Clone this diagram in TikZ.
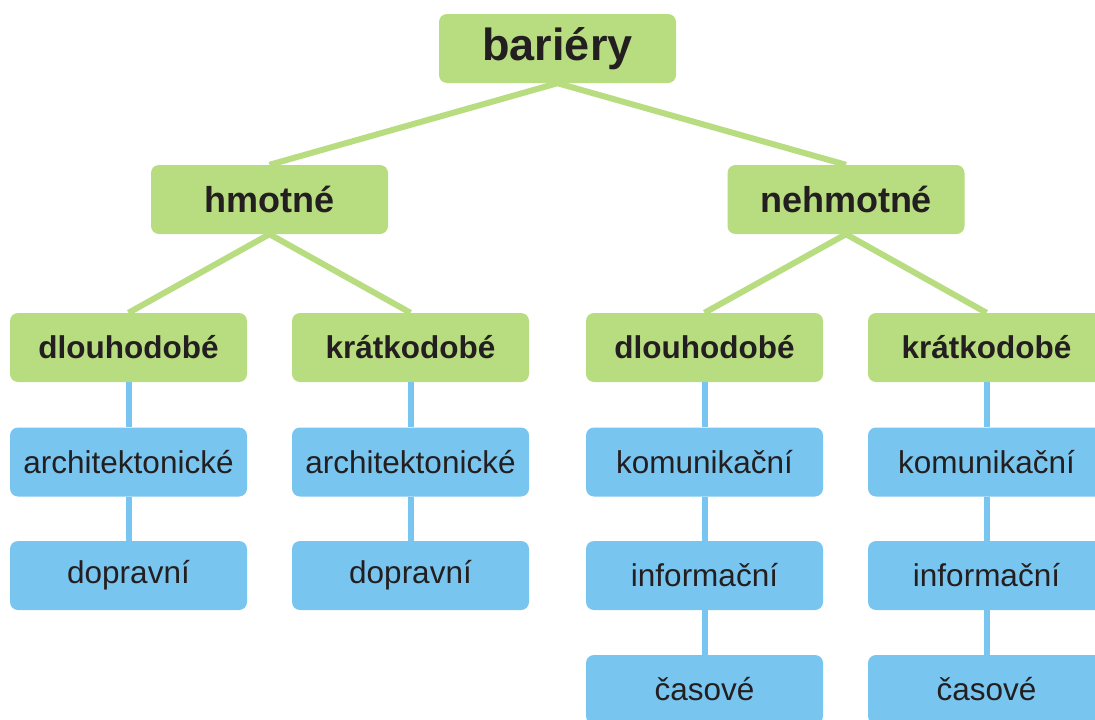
\documentclass[tikz,border=0pt]{standalone}
\usepackage{fontspec}
\setmainfont{Liberation Sans}
\usepackage{xcolor}
\usepackage{tikz}
\usetikzlibrary{positioning}
\definecolor{grn}{HTML}{B8DC80}
\definecolor{blu}{HTML}{78C5F0}
\definecolor{ink}{HTML}{231F20}
\tikzset{
  box/.style={rectangle, rounded corners=8pt, minimum width=237pt, minimum height=69pt, inner sep=0pt, text=ink},
  top/.style={box, fill=grn, font=\fontsize{45}{50}\selectfont\bfseries},
  mid/.style={box, fill=grn, font=\fontsize{36}{40}\selectfont\bfseries},
  sub/.style={box, fill=grn, font=\fontsize{31.5}{36}\selectfont\bfseries},
  leaf/.style={box, fill=blu, font=\fontsize{31.5}{36}\selectfont},
  ge/.style={draw=grn, line width=6pt},
  be/.style={draw=blu, line width=6pt},
  tree/.style={x=1pt, y=-1pt}
}
\begin{document}
\begin{tikzpicture}[tree]
  \useasboundingbox (0,0) rectangle (1095,720);
  \clip (0,0) rectangle (1095,720);

  % Root
  \node[top] (bar) at (557.5,48.5) {bariéry};

  % Second level
  \node[mid] (hm) at (269.5,199.5) {hmotné};
  \node[mid] (nehm) at (846,199.5) {nehmotné};

  % Third level
  \node[sub] (hdl) at (128.5,347.5) {dlouhodobé};
  \node[sub] (hkr) at (410.5,347.5) {krátkodobé};
  \node[sub] (ndl) at (704.5,347.5) {dlouhodobé};
  \node[sub] (nkr) at (986.5,347.5) {krátkodobé};

  % Leaves - hmotne
  \node[leaf] (hdl1) at (128.5,462) {architektonické};
  \node[leaf] (hdl2) at (128.5,575.5) {dopravní};
  \node[leaf] (hkr1) at (410.5,462) {architektonické};
  \node[leaf] (hkr2) at (410.5,575.5) {dopravní};

  % Leaves - nehmotne
  \node[leaf] (ndl1) at (704.5,462) {komunikační};
  \node[leaf] (ndl2) at (704.5,575.5) {informační};
  \node[leaf] (ndl3) at (704.5,689.5) {časové};
  \node[leaf] (nkr1) at (986.5,462) {komunikační};
  \node[leaf] (nkr2) at (986.5,575.5) {informační};
  \node[leaf] (nkr3) at (986.5,689.5) {časové};

  % Green edges
  \draw[ge] (bar.south) -- (hm.north);
  \draw[ge] (bar.south) -- (nehm.north);
  \draw[ge] (hm.south) -- (hdl.north);
  \draw[ge] (hm.south) -- (hkr.north);
  \draw[ge] (nehm.south) -- (ndl.north);
  \draw[ge] (nehm.south) -- (nkr.north);

  % Blue edges
  \draw[be] (hdl) -- (hdl1);
  \draw[be] (hdl1) -- (hdl2);
  \draw[be] (hkr) -- (hkr1);
  \draw[be] (hkr1) -- (hkr2);
  \draw[be] (ndl) -- (ndl1);
  \draw[be] (ndl1) -- (ndl2);
  \draw[be] (ndl2) -- (ndl3);
  \draw[be] (nkr) -- (nkr1);
  \draw[be] (nkr1) -- (nkr2);
  \draw[be] (nkr2) -- (nkr3);
\end{tikzpicture}
\end{document}
